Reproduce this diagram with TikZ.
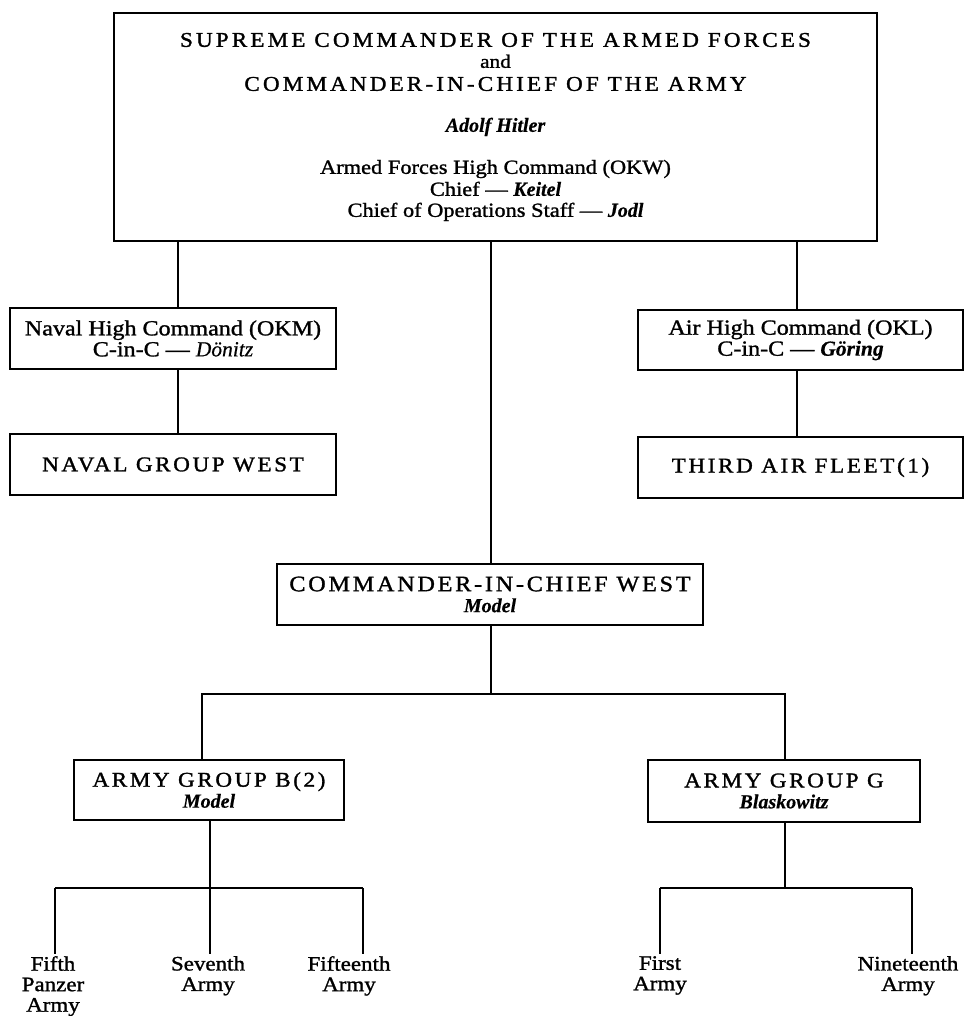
\documentclass[tikz,border=0pt]{standalone}
\usepackage{fontspec}
\setmainfont{Liberation Serif}[FakeStretch=1.12, FakeBold=1.3]
\newfontfamily\titlefont{Liberation Serif}[FakeStretch=1.1, FakeBold=1.4, LetterSpace=15]
\newfontfamily\capfont{Liberation Serif}[FakeStretch=1.1, FakeBold=1.4, LetterSpace=12.5]
\newfontfamily\namefont{Liberation Serif}[FakeBold=0.5]

% letter-spaced capitals and names
\newcommand\titlecaps{\fontsize{21}{22}\titlefont}
\newcommand\boxcaps{\fontsize{21}{21}\capfont}
\newcommand\widecaps{\fontsize{22}{21}\capfont}
\newcommand\person{\namefont\bfseries\itshape}

\begin{document}
\lineskiplimit=-100pt
\begin{tikzpicture}[x=1pt, y=-1pt,
  box/.style={draw, line width=2.6pt, align=center, inner sep=0pt,
    font=\fontsize{21.5}{21}\selectfont},
  link/.style={line width=2.3pt},
  thinlink/.style={line width=1.8pt},
  lbl/.style={align=center, inner sep=2pt,
    font=\fontsize{20.5}{20.5}\selectfont}]
\useasboundingbox (0,0) rectangle (966,1016);

% supreme command
\node[box, minimum width=763pt, minimum height=228pt,
      font=\fontsize{20}{22}\selectfont] (top) at (495.5,127)
  {{\titlecaps SUPREME COMMANDER OF THE ARMED FORCES}\\[-1pt]
   {\fontsize{19}{22}\selectfont and}\\[1pt]
   {\titlecaps COMMANDER-IN-CHIEF OF THE ARMY}\\[19pt]
   {\person Adolf Hitler}\\[20pt]
   Armed Forces High Command (OKW)\\
   Chief — {\person Keitel}\\[-1pt]
   Chief of Operations Staff — {\person Jodl}};

% navy and air force
\node[box, minimum width=326pt, minimum height=61pt] (naval) at (173,338.5)
  {Naval High Command (OKM)\\ C-in-C — {\namefont\itshape Dönitz}};
\node[box, minimum width=326pt, minimum height=61pt] (ngw) at (173,464.5)
  {\boxcaps NAVAL GROUP WEST};
\node[box, minimum width=325pt, minimum height=60pt] (air) at (800.5,340)
  {Air High Command (OKL)\\ C-in-C — {\person Göring}};
\node[box, minimum width=325pt, minimum height=61pt] (third) at (800.5,467.5)
  {\boxcaps THIRD AIR FLEET(1)};

% western theatre
\node[box, minimum width=426pt, minimum height=61pt] (cinc) at (490,594.5)
  {{\widecaps COMMANDER-IN-CHIEF WEST}\\ {\fontsize{20}{20}\selectfont\person Model}};
\node[box, minimum width=270pt, minimum height=60pt] (agb) at (209,790)
  {{\boxcaps ARMY GROUP B(2)}\\ {\fontsize{20}{20}\selectfont\person Model}};
\node[box, minimum width=272pt, minimum height=62pt] (agg) at (784,791)
  {{\boxcaps ARMY GROUP G}\\ {\fontsize{20}{20}\selectfont\person Blaskowitz}};

% armies
\node[lbl, anchor=north] (fifth) at (53,954) {Fifth\\Panzer\\Army};
\node[lbl, anchor=north] (seventh) at (208,954) {Seventh\\Army};
\node[lbl, anchor=north] (fifteenth) at (349,954) {Fifteenth\\Army};
\node[lbl, anchor=north] (first) at (660,954) {First\\Army};
\node[lbl, anchor=north] (nineteenth) at (908,954) {Nineteenth\\Army};

% branch points
\coordinate (nv) at (178,0);
\coordinate (md) at (491,0);
\coordinate (av) at (797,0);
\coordinate (bL) at (202,694);
\coordinate (bR) at (785,694);
\coordinate (b1) at (55,888);
\coordinate (b2) at (210,888);
\coordinate (b3) at (363,888);
\coordinate (g1) at (660,888);
\coordinate (g2) at (912,888);

% command lines
\draw[link] (top.south -| nv) -- (naval.north -| nv);
\draw[link] (top.south -| md) -- (cinc.north -| md);
\draw[link] (top.south -| av) -- (air.north -| av);
\draw[link] (naval.south -| nv) -- (ngw.north -| nv);
\draw[link] (air.south -| av) -- (third.north -| av);
\draw[link] (cinc.south -| md) -- (bL -| md);
\draw[link] (agb.north -| bL) -- (bL) -- (bR) -- (agg.north -| bR);

\draw[link] (agb.south -| b2) -- (b2);
\draw[link] (b1) -- (b3);
\draw[thinlink] (b1) -- (fifth.north -| b1);
\draw[thinlink] (b2) -- (seventh.north -| b2);
\draw[thinlink] (b3) -- (fifteenth.north -| b3);

\draw[link] (agg.south -| bR) -- (g1 -| bR);
\draw[link] (g1) -- (g2);
\draw[thinlink] (g1) -- (first.north -| g1);
\draw[thinlink] (g2) -- (nineteenth.north -| g2);
\end{tikzpicture}
\end{document}
